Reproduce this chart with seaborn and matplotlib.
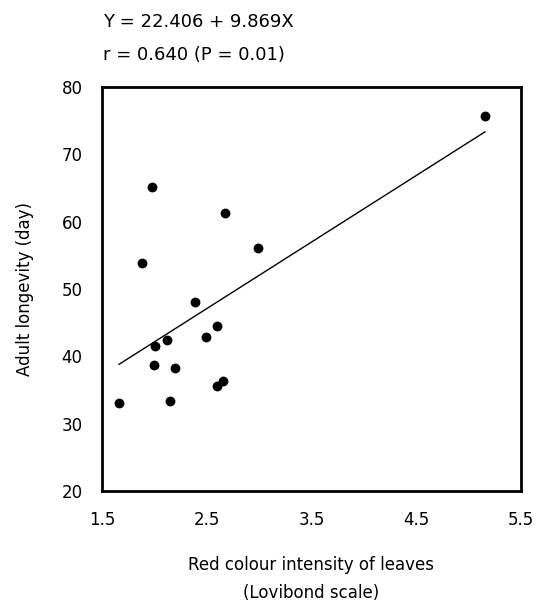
import numpy as np
import pandas as pd
import seaborn as sns
import matplotlib
matplotlib.use("Agg")
import matplotlib.pyplot as plt

# valores
intensidad_rojo = [5.16, 1.98, 2.67, 2.99, 1.88, 2.39, 2.60, 2.49,
                   2.12, 2.01, 2.00, 2.20, 2.66, 2.60, 1.66, 2.15]
longevidad = [75.6, 65.2, 61.2, 56.1, 53.9, 48.0, 44.5, 42.8,
              42.4, 41.6, 38.7, 38.2, 36.3, 35.6, 33.1, 33.3]

# recta de regresion publicada
intercepto = 22.406
pendiente = 9.869

x_ticks = [1.5, 2.5, 3.5, 4.5, 5.5]
y_ticks = [20, 30, 40, 50, 60, 70, 80]

sns.set_theme(style="white")
plt.rcParams['font.family'] = ['DejaVu Sans']
plt.rcParams['text.color'] = 'black'
plt.rcParams['axes.labelcolor'] = 'black'
plt.rcParams['xtick.color'] = 'black'
plt.rcParams['ytick.color'] = 'black'

datos = pd.DataFrame({'x': intensidad_rojo, 'y': longevidad})
x_linea = np.array([min(intensidad_rojo), max(intensidad_rojo)])
linea = pd.DataFrame({'x': x_linea, 'y': intercepto + pendiente * x_linea})

fig = plt.figure(figsize=(5.43, 6.07), dpi=100)
ax = fig.add_axes([0.188, 0.191, 0.771, 0.666])

sns.scatterplot(data=datos, x='x', y='y', ax=ax, color='black',
                s=50, edgecolor='black', linewidth=0, zorder=3)
sns.lineplot(data=linea, x='x', y='y', ax=ax, color='black', linewidth=1.0)

ax.set_xlim(1.5, 5.5)
ax.set_ylim(20, 80)
ax.set_xticks(x_ticks)
ax.set_xticklabels([str(v) for v in x_ticks])
ax.set_yticks(y_ticks)
ax.tick_params(axis='both', labelsize=12, length=0, pad=14)

for s in ax.spines.values():
    s.set_visible(True)
    s.set_color('black')
    s.set_linewidth(2)

ax.set_xlabel('Red colour intensity of leaves\n(Lovibond scale)',
              fontsize=12, labelpad=20, linespacing=1.7)
ax.set_ylabel('Adult longevity (day)', fontsize=12, labelpad=20)

fig.text(0.19, 0.963, 'Y = 22.406 + 9.869X', fontsize=13, va='center')
fig.text(0.19, 0.909, 'r = 0.640 (P = 0.01)', fontsize=13, va='center')

plt.savefig('out.png', dpi=100)
